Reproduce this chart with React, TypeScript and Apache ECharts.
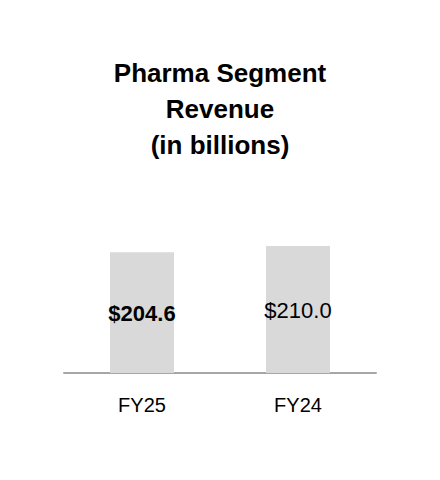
import React, { useEffect, useRef } from "react";
import * as echarts from "echarts";

const categories = ["FY25", "FY24"];
const revenue = [204.6, 210.0];
const labelBold = [true, false];
const titleText = "Pharma Segment\nRevenue\n(in billions)";

export default function App() {
  const ref = useRef<HTMLDivElement>(null);
  useEffect(() => {
    if (!ref.current) return;
    const chart = echarts.init(ref.current, null, { renderer: "svg" });
    const font = "'Liberation Sans', Arial, sans-serif";
    chart.setOption({
      animation: false,
      title: {
        text: titleText,
        left: "center",
        top: 55,
        padding: 0,
        textStyle: {
          fontFamily: font,
          fontSize: 26,
          fontWeight: "bold",
          lineHeight: 36,
          color: "#000",
        },
      },
      grid: { left: 64, right: 64, top: 142, bottom: 107, containLabel: false },
      xAxis: {
        type: "category",
        data: categories,
        axisLine: { lineStyle: { color: "#a6a6a6", width: 2 } },
        axisTick: { show: false },
        axisLabel: { color: "#000", fontFamily: font, fontSize: 20, margin: 22 },
      },
      yAxis: {
        type: "value",
        min: 100,
        max: 300,
        show: false,
        splitLine: { show: false },
      },
      series: [
        {
          type: "bar",
          barWidth: 64,
          data: revenue.map((v, i) => ({
            value: v,
            label: { fontWeight: labelBold[i] ? "bold" : "normal" },
          })),
          itemStyle: { color: "#d9d9d9" },
          label: {
            show: true,
            position: "inside",
            offset: [0, 1],
            color: "#000",
            fontFamily: font,
            fontSize: 22,
            formatter: (p: any) => "$" + Number(p.value).toFixed(1),
          },
        },
      ],
    });
    return () => chart.dispose();
  }, []);
  return (
    <div
      ref={ref}
      style={{ position: "absolute", left: 0, top: 0, width: 440, height: 480 }}
    />
  );
}
